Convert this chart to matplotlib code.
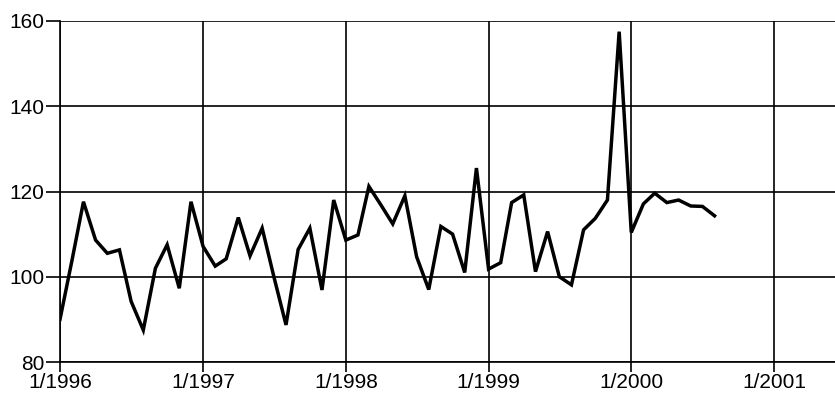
import matplotlib
matplotlib.use("Agg")
import matplotlib.pyplot as plt
import pandas as pd

values = [90, 104, 117.6, 108.6, 105.5, 106.3, 94.2, 87.5, 102, 107.5, 97.3, 117.6,
          107.1, 102.5, 104.2, 113.9, 104.9, 111.4, 100, 88.7, 106.4, 111.4, 96.9, 118,
          108.6, 109.8, 121.2, 116.8, 112.4, 119, 104.7, 97, 111.8, 110, 101, 125.5,
          101.8, 103.3, 117.4, 119.2, 101.2, 110.6, 100, 98.1, 111, 113.7, 118, 157.5,
          110.4, 117.1, 119.6, 117.4, 118, 116.6, 116.5, 114.3]
start_month = "1996-01-01"
x_tick_dates = ["1996-01-01", "1997-01-01", "1998-01-01", "1999-01-01", "2000-01-01", "2001-01-01"]
x_tick_labels = ["1/1996", "1/1997", "1/1998", "1/1999", "1/2000", "1/2001"]
y_ticks = [80, 100, 120, 140, 160]

plt.rcParams['font.family'] = ['Liberation Sans', 'DejaVu Sans']

dates = pd.date_range(start_month, periods=len(values), freq="MS")

fig = plt.figure(figsize=(8.35, 4.01), dpi=100)
ax = fig.add_axes([60 / 835, 1 - 362 / 401, 1 - 60 / 835, (362 - 21) / 401])

ax.plot(dates, values, color="black", lw=2.5, solid_joinstyle="miter", zorder=3)

ax.set_xlim(pd.Timestamp("1996-01-01"), pd.Timestamp("2001-06-05"))
ax.set_ylim(80, 160)

ax.set_xticks(pd.to_datetime(x_tick_dates))
ax.set_xticklabels(x_tick_labels)
ax.set_yticks(y_ticks)
ax.set_yticklabels([str(v) for v in y_ticks])

ax.grid(True, color="black", lw=1.2)
for side in ["top", "right"]:
    ax.spines[side].set_visible(False)
for side in ["left", "bottom"]:
    ax.spines[side].set_linewidth(1.2)
    ax.spines[side].set_color("black")

ax.tick_params(axis="y", length=10, width=1.2, pad=1, labelsize=15)
ax.tick_params(axis="x", length=7, width=1.2, pad=1, labelsize=15)

fig.savefig("out.png", dpi=100)
